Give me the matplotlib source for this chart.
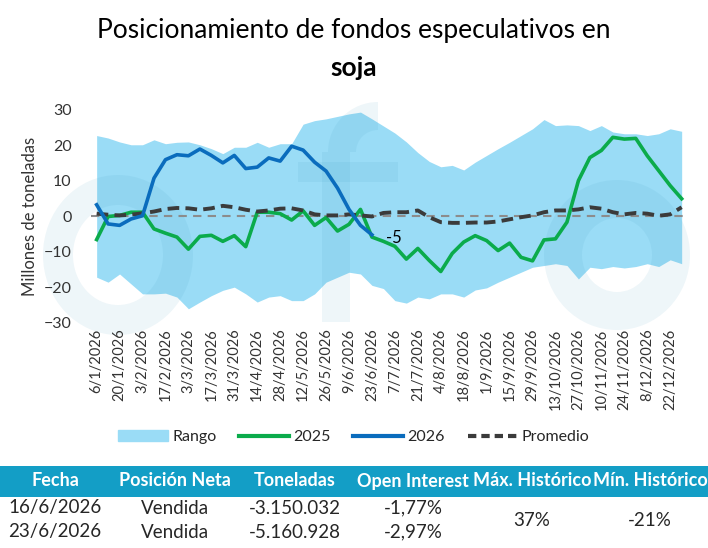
import matplotlib.pyplot as plt
import matplotlib.patches as mpatches
from matplotlib.lines import Line2D
from matplotlib.transforms import IdentityTransform
import numpy as np

plt.rcParams['font.family'] = ['Lato', 'DejaVu Sans']

# weekly data, 6/1/2026 .. 29/12/2026
tick_labels = ["6/1/2026", "20/1/2026", "3/2/2026", "17/2/2026", "3/3/2026", "17/3/2026",
               "31/3/2026", "14/4/2026", "28/4/2026", "12/5/2026", "26/5/2026", "9/6/2026",
               "23/6/2026", "7/7/2026", "21/7/2026", "4/8/2026", "18/8/2026", "1/9/2026",
               "15/9/2026", "29/9/2026", "13/10/2026", "27/10/2026", "10/11/2026",
               "24/11/2026", "8/12/2026", "22/12/2026"]

rango_max = [22.8, 22.1, 21.0, 20.2, 20.2, 21.6, 20.5, 20.9, 21.0, 20.2, 19.1, 17.7, 19.5,
             19.5, 20.9, 19.5, 20.5, 20.5, 26.0, 27.0, 27.5, 28.2, 28.9, 29.4, 27.5, 25.5,
             23.5, 21.0, 18.0, 15.5, 14.0, 14.4, 13.1, 15.3, 17.2, 19.1, 20.9, 22.8, 24.7,
             27.3, 25.6, 25.8, 25.6, 24.2, 25.6, 23.8, 23.3, 23.3, 22.8, 23.3, 24.7, 24.0]
rango_min = [-17.1, -18.5, -16.2, -19.0, -21.8, -21.8, -21.6, -22.7, -26.0, -24.1, -22.3,
             -20.8, -19.9, -21.8, -24.1, -22.7, -22.3, -23.7, -23.7, -21.8, -18.5, -17.1,
             -15.7, -16.2, -19.4, -20.3, -23.7, -24.4, -22.7, -23.2, -21.8, -21.8, -22.7,
             -20.7, -20.1, -18.5, -17.1, -15.7, -14.3, -13.8, -13.3, -13.8, -17.6, -14.3,
             -14.7, -14.1, -14.5, -14.1, -13.3, -14.1, -12.2, -13.3]
serie_2025 = [-6.5, 0.0, 0.3, 1.2, 1.2, -3.5, -4.7, -5.8, -9.2, -5.6, -5.3, -7.0, -5.4,
              -8.5, 1.2, 1.2, 0.8, -1.0, 1.6, -2.5, -0.3, -4.1, -2.2, 2.0, -5.8, -7.0,
              -8.4, -12.0, -9.0, -12.4, -15.5, -10.4, -7.2, -5.4, -6.8, -9.6, -7.5,
              -11.5, -12.5, -6.6, -6.3, -1.6, 10.1, 16.6, 18.6, 22.3, 21.8, 22.0, 17.1,
              12.9, 8.7, 5.0]
serie_2026 = [3.3, -2.1, -2.5, -0.7, 0.2, 10.8, 16.0, 17.4, 17.1, 19.0, 17.2, 15.1, 17.2,
              13.5, 13.9, 16.5, 15.6, 19.8, 18.7, 15.3, 12.8, 8.0, 2.0, -2.5, -5.16]
promedio = [0.8, 0.5, 0.3, 0.5, 0.9, 1.4, 2.1, 2.4, 2.3, 1.9, 2.3, 3.0, 2.6, 1.9, 1.4, 1.7,
            2.2, 2.3, 1.7, 0.6, 0.3, 0.3, 0.6, 0.3, 0.0, 1.0, 1.2, 1.2, 1.7, -0.2, -1.6,
            -1.8, -1.8, -1.7, -1.7, -1.4, -0.8, -0.2, 0.3, 1.2, 1.7, 1.7, 2.0, 2.6, 2.2,
            1.2, 0.6, 1.0, 0.8, 0.2, 0.6, 2.6]

tabla_cols = ["Fecha", "Posición Neta", "Toneladas", "Open Interest", "Máx. Histórico", "Mín. Histórico"]
tabla_filas = [["16/6/2026", "Vendida", "-3.150.032", "-1,77%"],
               ["23/6/2026", "Vendida", "-5.160.928", "-2,97%"]]
max_hist = "37%"
min_hist = "-21%"

c_band = '#9adcf6'
c_2025 = '#0bab4b'
c_2026 = '#0a6cbd'
c_prom = '#3b3b3b'
c_txt = '#262626'
c_marca = '#2a8db5'

fig = plt.figure(figsize=(7.08, 5.48), dpi=100)
ax = fig.add_axes([0.1284, 0.4106, 0.8425, 0.3887])

x = np.arange(len(rango_max))
ax.fill_between(x, rango_min, rango_max, color=c_band, lw=0)

# marca de agua (logo tenue), en pixeles de la figura
H = 548
ident = IdentityTransform()
marca = [mpatches.Annulus((617, H - 255), (73, 75), 38),
         mpatches.Annulus((118, H - 255), (75, 80), 30),
         mpatches.Rectangle((322, H - 322), 28, 170),
         mpatches.Rectangle((298, H - 182), 100, 20),
         mpatches.Wedge((378, H - 152), 50, 90, 180, width=28)]
for p in marca:
    p.set_transform(ident)
    p.set_clip_on(False)
    p.set_facecolor(c_marca)
    p.set_edgecolor('none')
    p.set_alpha(0.08)
    p.set_zorder(1.5)
    ax.add_patch(p)

ax.axhline(0, color='#8c8c8c', lw=1.5, ls=(0, (4, 3)), zorder=2)
ax.plot(x, serie_2025, color=c_2025, lw=2.6, zorder=3)
ax.plot(np.arange(len(serie_2026)), serie_2026, color=c_2026, lw=2.6, zorder=4)
ax.plot(x, promedio, color=c_prom, lw=2.8, ls=(0, (3, 1.6)), zorder=3)
ax.annotate("-5", (len(serie_2026) - 1, serie_2026[-1]), xytext=(10, -2),
            textcoords='offset points', ha='left', va='center', fontsize=12, color='black')

ax.set_xlim(-0.5, len(x) - 0.5)
ax.set_ylim(-30, 30)
ax.set_yticks(np.arange(-30, 31, 10))
ax.set_xticks(np.arange(0, len(x), 2))
ax.set_xticklabels(tick_labels, rotation=90, fontsize=10.5, color='#333333')
ax.tick_params(axis='y', labelsize=11.5, length=0, pad=14, labelcolor='#333333')
ax.tick_params(axis='x', length=0, pad=4)
for s in ax.spines.values():
    s.set_visible(False)
ax.set_ylabel("Millones de toneladas", fontsize=12, labelpad=4, color='#333333')

fig.text(0.5, 0.945, "Posicionamiento de fondos especulativos en", ha='center', va='center',
         fontsize=19, color='black')
fig.text(0.5, 0.876, "soja", ha='center', va='center', fontsize=19, fontweight='bold', color='black')

handles = [mpatches.Patch(color=c_band, label='Rango'),
           Line2D([], [], color=c_2025, lw=3, label='2025'),
           Line2D([], [], color=c_2026, lw=3, label='2026'),
           Line2D([], [], color=c_prom, lw=3, ls=(0, (2, 1.2)), label='Promedio')]
leg = fig.legend(handles=handles, loc='center', bbox_to_anchor=(0.5, 0.202), ncol=4, frameon=False,
                 fontsize=11.5, handlelength=3.1, columnspacing=1.4, handletextpad=0.3)
for t in leg.get_texts():
    t.set_color(c_txt)

# tabla
fig.patches.append(mpatches.Rectangle((0, 1 - 497 / 548), 1, 31 / 548, transform=fig.transFigure,
                                      color='#139ec6', lw=0))
col_x = [55, 175, 295, 413, 532, 650]
for cx, t in zip(col_x, tabla_cols):
    fig.text(cx / 708, 1 - 481 / 548, t, ha='center', va='center', color='white',
             fontsize=13, fontweight='bold')
for fy, fila in zip([508, 532], tabla_filas):
    for cx, t in zip(col_x, fila):
        fig.text(cx / 708, 1 - fy / 548, t, ha='center', va='center', color=c_txt, fontsize=13.5)
fig.text(col_x[4] / 708, 1 - 520 / 548, max_hist, ha='center', va='center', color=c_txt, fontsize=13.5)
fig.text(col_x[5] / 708, 1 - 520 / 548, min_hist, ha='center', va='center', color=c_txt, fontsize=13.5)

fig.savefig("out.png", dpi=100)
